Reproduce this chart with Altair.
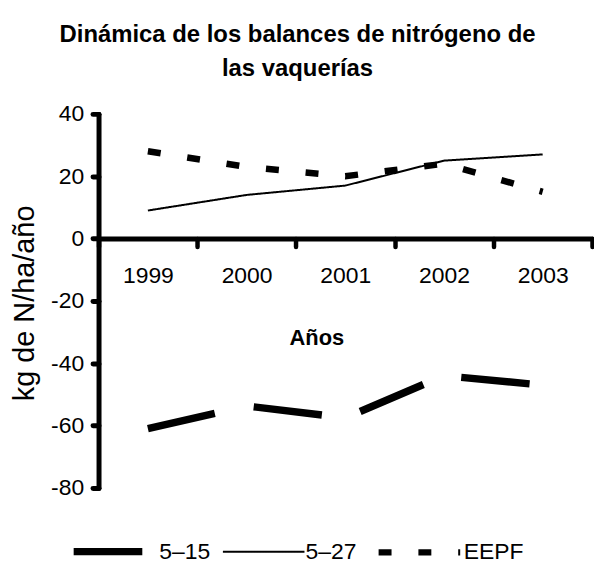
import altair as alt
import pandas as pd

years = ["1999", "2000", "2001", "2002", "2003"]
s_515 = [-61, -53.7, -57.5, -44, -47]
s_527 = [9, 14, 17, 25, 27]
s_eepf = [28, 23, 20, 24, 15]
series = ["5–15", "5–27", "EEPF"]
y_ticks = [-80, -60, -40, -20, 0, 20, 40]

rows = []
for name, vals in zip(series, [s_515, s_527, s_eepf]):
    for yr, v in zip(years, vals):
        rows.append({"year": yr, "value": v, "serie": name})
df = pd.DataFrame(rows)

F = "Liberation Sans, Arial, sans-serif"
W, H = 496, 376
zero_off = -(H * 80 / 120)

leg = alt.Legend(
    orient="none", legendX=-29, legendY=395, direction="horizontal", title=None,
    symbolType="stroke", symbolSize=82 * 82, labelFont=F, labelFontSize=23,
    labelColor="black", labelOffset=0, columnPadding=8, padding=0,
    symbolStrokeColor="black",
)

chart = alt.Chart(df).mark_line(strokeCap="butt", strokeJoin="miter").encode(
    x=alt.X(
        "year:O",
        scale=alt.Scale(type="band", paddingInner=0, paddingOuter=0),
        bandPosition=0.5,
        axis=alt.Axis(
            orient="bottom", offset=zero_off, domainWidth=5, domainColor="black",
            domainCap="round", tickBand="extent", tickSize=8, tickWidth=4.5,
            tickCap="round", tickColor="black", labelAngle=0, labelFont=F,
            labelFontSize=23, labelColor="black", labelPadding=18, grid=False,
            title="Años", titleFont=F, titleFontSize=22, titleFontWeight="bold",
            titleColor="black", titleX=219, titleY=99, titleBaseline="middle",
        ),
    ),
    y=alt.Y(
        "value:Q",
        scale=alt.Scale(domain=[-80, 40], nice=False, zero=False),
        axis=alt.Axis(
            values=y_ticks, domainWidth=5, domainColor="black", domainCap="round",
            tickSize=6, tickWidth=5, tickCap="round", tickColor="black",
            labelFont=F, labelFontSize=23, labelColor="black", labelPadding=9,
            labelExpr="'' + datum.value", grid=False,
            title="kg de N/ha/año", titleFont=F, titleFontSize=29,
            titleFontWeight="normal", titleColor="black", titleAngle=270,
            titleX=-74, titleY=190, titleBaseline="middle",
        ),
    ),
    color=alt.Color("serie:N", scale=alt.Scale(domain=series, range=["black"] * 3), legend=leg),
    strokeDash=alt.StrokeDash(
        "serie:N",
        scale=alt.Scale(domain=series, range=[[69, 40], [1, 0], [13, 27]]),
        legend=leg,
    ),
    strokeWidth=alt.StrokeWidth(
        "serie:N",
        scale=alt.Scale(type="ordinal", domain=series, range=[7.5, 2, 6.5]),
        legend=leg,
    ),
).properties(
    width=W,
    height=H,
    title=alt.Title(
        ["Dinámica de los balances de nitrógeno de", "las vaquerías"],
        font=F, fontSize=24, fontWeight="bold", color="black", anchor="middle",
        frame="group", dx=-48, lineHeight=34, offset=22,
    ),
    autosize=alt.AutoSizeParams(type="none"),
    padding={"left": 91, "top": 105, "right": 2, "bottom": 74},
).configure_view(stroke=None)

chart.save("out.html", embed_options={"renderer": "svg", "actions": False})
